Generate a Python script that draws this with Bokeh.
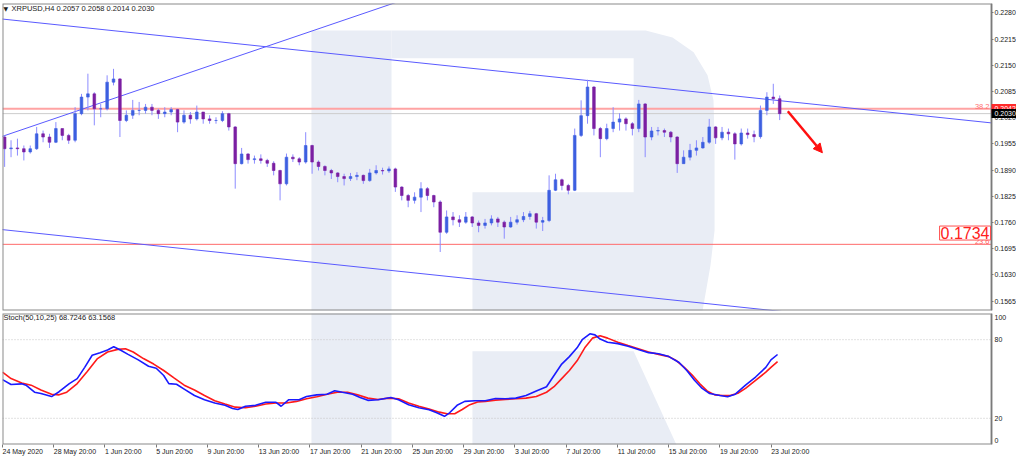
from bokeh.plotting import figure
from bokeh.models import (ColumnDataSource, Range1d, FixedTicker, PrintfTickFormatter,
                          Label, Arrow, NormalHead, LinearAxis)
from bokeh.layouts import column
from bokeh.embed import file_html
from bokeh.resources import INLINE

FONT = "Liberation Sans"

# ---------------- data ----------------
symbol = "XRPUSD,H4"
last_ohlc = ["0.2057", "0.2058", "0.2014", "0.2030"]
stoch_name = "Stoch(50,10,25)"
stoch_last = ["68.7246", "63.1568"]

bars_per_candle = 3          # each drawn candle = 3 H4 bars (12h)
first_open = 0.1972
close_ = [0.1943, 0.1945, 0.1943, 0.1935, 0.1943, 0.1980, 0.1972, 0.1959, 0.1993, 0.1976,
          0.1964, 0.2030, 0.2071, 0.2079, 0.2042, 0.2042, 0.2108, 0.2116, 0.2013, 0.2026,
          0.2038, 0.2038, 0.2046, 0.2038, 0.2030, 0.2034, 0.2040, 0.2009, 0.2026, 0.2017,
          0.2034, 0.2017, 0.2013, 0.2013, 0.2030, 0.1997, 0.1906, 0.1930, 0.1916, 0.1918,
          0.1914, 0.1907, 0.1889, 0.1856, 0.1922, 0.1918, 0.1910, 0.1951, 0.1910, 0.1899,
          0.1889, 0.1883, 0.1874, 0.1869, 0.1874, 0.1877, 0.1864, 0.1883, 0.1889, 0.1888,
          0.1893, 0.1848, 0.1827, 0.1815, 0.1823, 0.1844, 0.1827, 0.1811, 0.1736, 0.1774,
          0.1767, 0.1761, 0.1774, 0.1759, 0.1753, 0.1759, 0.1769, 0.1761, 0.1749, 0.1761,
          0.1767, 0.1775, 0.1782, 0.1761, 0.1765, 0.1840, 0.1866, 0.1852, 0.1840, 0.1976,
          0.2025, 0.2096, 0.1993, 0.1968, 0.1993, 0.2009, 0.2017, 0.2005, 0.1993, 0.2054,
          0.1972, 0.1987, 0.1988, 0.1984, 0.1972, 0.1906, 0.1922, 0.1939, 0.1945, 0.1959,
          0.1997, 0.1970, 0.1984, 0.1980, 0.1955, 0.1982, 0.1978, 0.1973, 0.2038, 0.2071,
          0.2067, 0.2030]
high_ = [0.1976, 0.1964, 0.1968, 0.1951, 0.1951, 0.1997, 0.1988, 0.1980, 0.2009, 0.1993,
         0.1980, 0.2046, 0.2079, 0.2129, 0.2083, 0.2054, 0.2125, 0.2141, 0.2118, 0.2038,
         0.2064, 0.2059, 0.2054, 0.2054, 0.2042, 0.2046, 0.2046, 0.2042, 0.2038, 0.2034,
         0.2050, 0.2034, 0.2026, 0.2021, 0.2036, 0.2032, 0.1999, 0.1945, 0.1932, 0.1926,
         0.1929, 0.1918, 0.1912, 0.1891, 0.1931, 0.1929, 0.1922, 0.1984, 0.1953, 0.1914,
         0.1902, 0.1893, 0.1885, 0.1881, 0.1883, 0.1885, 0.1879, 0.1893, 0.1902, 0.1896,
         0.1899, 0.1896, 0.1850, 0.1831, 0.1835, 0.1860, 0.1848, 0.1829, 0.1815, 0.1790,
         0.1786, 0.1778, 0.1786, 0.1776, 0.1765, 0.1769, 0.1778, 0.1774, 0.1765, 0.1774,
         0.1778, 0.1786, 0.1789, 0.1784, 0.1774, 0.1877, 0.1881, 0.1869, 0.1856, 0.1993,
         0.2063, 0.2114, 0.2098, 0.1997, 0.2005, 0.2046, 0.2031, 0.2021, 0.2009, 0.2064,
         0.2056, 0.1997, 0.1997, 0.1993, 0.1987, 0.1974, 0.1939, 0.1955, 0.1964, 0.1972,
         0.2017, 0.1999, 0.1997, 0.1993, 0.1984, 0.1993, 0.1993, 0.1988, 0.2050, 0.2083,
         0.2104, 0.2075]
low_ = [0.1898, 0.1922, 0.1926, 0.1914, 0.1931, 0.1940, 0.1959, 0.1945, 0.1957, 0.1964,
        0.1955, 0.1959, 0.2026, 0.2038, 0.2001, 0.2021, 0.2038, 0.2100, 0.1972, 0.2009,
        0.2017, 0.2026, 0.2030, 0.2026, 0.2017, 0.2021, 0.2026, 0.1984, 0.2005, 0.2005,
        0.2013, 0.2005, 0.2005, 0.2005, 0.2009, 0.1988, 0.1844, 0.1904, 0.1906, 0.1906,
        0.1906, 0.1898, 0.1877, 0.1815, 0.1852, 0.1910, 0.1902, 0.1906, 0.1881, 0.1889,
        0.1877, 0.1868, 0.1860, 0.1852, 0.1863, 0.1865, 0.1856, 0.1861, 0.1879, 0.1879,
        0.1883, 0.1836, 0.1815, 0.1798, 0.1807, 0.1786, 0.1815, 0.1798, 0.1687, 0.1732,
        0.1753, 0.1749, 0.1757, 0.1749, 0.1736, 0.1745, 0.1753, 0.1749, 0.1720, 0.1747,
        0.1755, 0.1761, 0.1767, 0.1745, 0.1739, 0.1761, 0.1838, 0.1840, 0.1830, 0.1838,
        0.1972, 0.2005, 0.1976, 0.1922, 0.1964, 0.1984, 0.1988, 0.1988, 0.1976, 0.1984,
        0.1922, 0.1964, 0.1976, 0.1972, 0.1959, 0.1883, 0.1906, 0.1914, 0.1926, 0.1943,
        0.1955, 0.1955, 0.1964, 0.1964, 0.1916, 0.1951, 0.1968, 0.1959, 0.1968, 0.2026,
        0.2054, 0.2014]

price_ticks = [0.2280, 0.2215, 0.2150, 0.2085, 0.2020, 0.1955, 0.1890, 0.1825,
               0.1760, 0.1695, 0.1630, 0.1565]
# stochastic scale labels (MT4 keeps the end labels inside the window)
stoch_label_pos = [3, 20, 80, 97]
stoch_label_txt = ["0", "20", "80", "100"]
date_tick_bars = [0, 24, 48, 72, 96, 120, 144, 168, 192, 216, 240, 264, 288, 312, 336, 360]
date_labels = ["24 May 2020", "28 May 20:00", "1 Jun 20:00", "5 Jun 20:00", "9 Jun 20:00",
               "13 Jun 20:00", "17 Jun 20:00", "21 Jun 20:00", "25 Jun 20:00", "29 Jun 20:00",
               "3 Jul 20:00", "7 Jul 20:00", "11 Jul 20:00", "15 Jul 20:00", "19 Jul 20:00",
               "23 Jul 20:00"]

# Stochastic %K (main) and %D (signal), read at bar indices
k_bars = [0, 4, 9, 11, 15, 18, 23, 26.5, 31.3, 35, 38.5, 42, 45.7, 49.2, 52.1, 55.2, 58.8,
          63.6, 68.4, 72, 75.5, 77.9, 81.5, 85.1, 89.9, 94.6, 99.4, 104.2, 107.8, 110.2,
          113.8, 118.5, 123.3, 128.1, 130.5, 134.1, 138.9, 142.4, 147.2, 152, 155.6, 159.2,
          164, 167.5, 171.1, 175.9, 181.9, 185.5, 190.2, 195, 199.8, 203.4, 207, 209.4,
          212.9, 216.5, 221.3, 226.1, 230.9, 235.6, 240.4, 245.2, 250, 254.8, 258.3, 261.9,
          265.5, 269.1, 271.5, 275.1, 277.5, 279.9, 283.4, 288.2, 293, 297.8, 302.6, 307.3,
          312.1, 316.9, 320.5, 324.1, 327.7, 331.2, 336, 339.6, 343.2, 348, 352.7, 357.5,
          359.9, 363]
k_vals = [49.5, 45.8, 46.3, 45.3, 39.9, 38.9, 36.6, 40.3, 46.5, 50.3, 58.9, 68.1, 70.1, 72.1,
          74.6, 72.1, 68.8, 64.6, 59.7, 58.2, 52.7, 46.5, 46.0, 42.3, 37.4, 34.2, 31.7, 29.9,
          27.5, 26.7, 29.2, 29.9, 32.2, 32.2, 29.2, 34.2, 34.2, 36.6, 37.9, 38.4, 41.1, 39.9,
          38.4, 35.9, 33.7, 34.2, 35.9, 34.2, 30.4, 28.0, 26.5, 24.2, 21.5, 24.2, 29.9, 32.9,
          33.4, 33.4, 35.1, 34.9, 35.4, 37.4, 40.9, 44.1, 52.7, 61.4, 67.1, 73.8, 80.0, 84.5,
          83.7, 80.5, 78.0, 77.0, 75.0, 72.6, 70.1, 69.3, 67.1, 62.6, 56.5, 49.0, 42.8, 38.9,
          37.4, 36.4, 38.4, 45.3, 51.5, 58.9, 64.6, 68.7]
d_bars = [0, 4, 9, 13.4, 18, 23, 26.5, 30.1, 35, 39.7, 44.5, 49.2, 54, 57.6, 61.2, 66, 70.8,
          75.5, 80.3, 85.1, 89.9, 94.6, 99.4, 104.2, 109, 113.8, 118.5, 123.3, 128.1, 132.9,
          137.7, 142.4, 147.2, 152, 156.8, 161.6, 166.3, 171.1, 175.9, 180.7, 185.5, 190.2,
          195, 199.8, 204.6, 208.2, 211.8, 215.3, 218.9, 222.5, 226.1, 230.9, 235.6, 240.4,
          245.2, 250, 254.8, 258.3, 261.9, 265.5, 269.1, 272.7, 276.3, 279.9, 283.4, 288.2,
          293, 297.8, 302.6, 307.3, 312.1, 315.7, 319.3, 322.9, 326.5, 330, 333.6, 337.2,
          340.8, 344.4, 348, 352.7, 357.5, 359.9, 363]
d_vals = [55.2, 50.3, 47.0, 45.3, 41.6, 38.4, 37.9, 39.9, 46.5, 55.7, 65.6, 70.6, 72.6, 73.1,
          70.6, 65.6, 61.4, 56.5, 50.8, 45.3, 41.6, 37.4, 33.4, 30.9, 28.5, 28.0, 29.2, 30.9,
          31.7, 31.7, 32.9, 34.9, 36.4, 38.4, 39.9, 39.9, 37.9, 35.4, 34.4, 35.4, 34.9, 31.7,
          29.2, 27.0, 24.7, 23.5, 23.5, 26.7, 30.4, 32.4, 32.9, 33.9, 34.4, 34.9, 35.4, 36.6,
          39.9, 44.1, 50.3, 56.5, 63.9, 73.8, 81.2, 83.0, 81.2, 78.0, 75.5, 73.1, 70.6, 68.8,
          67.1, 63.9, 58.9, 53.2, 46.5, 40.9, 37.9, 37.4, 37.4, 39.1, 42.8, 49.0, 55.2, 58.9,
          63.2]

# drawn objects (trend lines / levels / labels)
X_END = 463.2                 # bar index at the price scale
upper_channel_bars = [-1, X_END]
upper_channel_price = [0.2265, 0.2007]
lower_channel_bars = [-1, X_END]
lower_channel_price = [0.1743, 0.1485]
rising_line_bars = [-1, 200]
rising_line_price = [0.1972, 0.2334]
fib_382 = 0.2042
fib_236 = 0.1706
bid_price = 0.2030
marked_price = 0.1734
arrow_bars = [367.8, 384.0]
arrow_price = [0.2036, 0.1933]
stoch_levels = [80, 20]

# background watermark (decoration, in bar / price units)
logo_stem_x = [144.7, 182.2, 182.2, 144.7]
logo_stem_y = [0.2236, 0.2236, 0.1500, 0.1500]
logo_bowl_x = [182.2, 301.2, 313.8, 323.7, 330.2, 333.0, 333.5, 333.5, 331.6, 326.5,
               220.1, 220.1, 295.6, 295.6, 182.2]
logo_bowl_y = [0.2236, 0.2236, 0.2219, 0.2182, 0.2125, 0.2063, 0.1963, 0.1740, 0.1654, 0.1500,
               0.1500, 0.1835, 0.1835, 0.2167, 0.2167]
logo_stem2_y = [105, 105, -5, -5]
logo_leg_x = [220.1, 295.6, 317.0, 220.1]
logo_leg_y = [71.1, 71.1, -5, -5]

# ---------------- styles ----------------
LOGO = "#e9edf5"
UP = "#3d5fe0"
DOWN = "#7b1fa2"
WICK = "#8c8cff"
TRENDLINE = "#5a5aff"
AXIS = "#7a7a7a"
BORDER = "#8a8a8a"
TXT = "#1a1a1a"
W = 1016
BL = 2
AXIS_PX = 989                       # price scale position from the frame's left edge
PX_PER_BAR = AXIS_PX / X_END
X_FULL = (W - BL) / PX_PER_BAR      # frame reaches the right edge (price labels inside it)
TICK_FS = 7  # px
P1_Y = (0.1542, 0.2303)
P2_Y = (0, 100)

x_range = Range1d(0, X_FULL)

# approximate Liberation Sans advance widths (em/1000) to start each time label at its tick
_adv = {"M": 833, "a": 556, "y": 500, "J": 500, "u": 556, "n": 556, "l": 222,
        " ": 278, ":": 278, ".": 278}


def text_px(s, fs=TICK_FS):
    return sum(_adv.get(ch, 556) for ch in s) * fs / 1000.0


date_label_centers = [round(b + text_px(s) / 2.0 / PX_PER_BAR, 3)
                      for b, s in zip(date_tick_bars, date_labels)]


def price_scale(ticks, fmt=None):
    ax = LinearAxis(fixed_location=X_END, ticker=FixedTicker(ticks=ticks))
    if fmt:
        ax.formatter = PrintfTickFormatter(format=fmt)
    ax.major_label_text_font = FONT
    ax.major_label_text_font_size = "%dpx" % TICK_FS
    ax.major_label_text_color = TXT
    ax.major_label_standoff = 1
    ax.axis_line_color = AXIS
    ax.major_tick_line_color = AXIS
    ax.major_tick_out = 2
    ax.major_tick_in = 0
    ax.minor_tick_line_color = None
    return ax


def panel_border(p, yr):
    p.quad(left=0, right=X_END, bottom=yr[0], top=yr[1], fill_color=None,
           line_color=BORDER, line_width=2)


# ---------------- price panel ----------------
p1 = figure(width=W, height=311, x_range=x_range, y_range=Range1d(*P1_Y),
            output_backend="svg", toolbar_location=None, x_axis_location=None,
            y_axis_location=None, min_border_left=BL, min_border_right=0,
            min_border_top=3, min_border_bottom=1)
p1.grid.visible = False
p1.outline_line_color = None
p1.background_fill_color = "white"
p1.border_fill_color = "white"

p1.patch(logo_stem_x, logo_stem_y, fill_color=LOGO, line_color=None)
p1.patch(logo_bowl_x, logo_bowl_y, fill_color=LOGO, line_color=None)

p1.segment(x0=0, y0=fib_382, x1=X_END, y1=fib_382, line_color="#ffa3a3", line_width=2)
p1.segment(x0=0, y0=bid_price, x1=X_END, y1=bid_price, line_color="#cccccc", line_width=1)
p1.segment(x0=0, y0=fib_236, x1=X_END, y1=fib_236, line_color="#ff6a6a", line_width=1)

p1.line(upper_channel_bars, upper_channel_price, line_color=TRENDLINE, line_width=1)
p1.line(lower_channel_bars, lower_channel_price, line_color=TRENDLINE, line_width=1)
p1.line(rising_line_bars, rising_line_price, line_color=TRENDLINE, line_width=1)

n = len(close_)
xs = [bars_per_candle * k + 1 for k in range(n)]
open_ = [first_open] + close_[:-1]
src = ColumnDataSource(dict(
    x=xs, h=high_, l=low_,
    top=[max(o, c) for o, c in zip(open_, close_)],
    bottom=[min(o, c) for o, c in zip(open_, close_)],
    color=[UP if c >= o else DOWN for o, c in zip(open_, close_)],
))
p1.segment(x0="x", y0="h", x1="x", y1="l", source=src, line_color=WICK, line_width=1)
p1.vbar(x="x", width=1.25, top="top", bottom="bottom", source=src,
        fill_color="color", line_color="color", line_width=0.6)

p1.add_layout(Arrow(end=NormalHead(size=9, fill_color="#ff1010", line_color="#ff1010"),
                    x_start=arrow_bars[0], y_start=arrow_price[0],
                    x_end=arrow_bars[1], y_end=arrow_price[1],
                    line_color="#ff1010", line_width=2.5))
panel_border(p1, P1_Y)

p1.add_layout(price_scale(price_ticks, "%.4f"), "right")

# coloured price tags on the price scale: a thick tick as the tag, then its white label
for lvl, bg in [(fib_382, "#ff2a2a"), (bid_price, "#000000")]:
    tag_box = price_scale([lvl], "%.4f")
    tag_box.axis_line_color = None
    tag_box.major_tick_out = 26
    tag_box.major_tick_line_width = 9
    tag_box.major_tick_line_color = bg
    tag_box.major_label_text_color = None
    p1.add_layout(tag_box, "right")
    tag_txt = price_scale([lvl], "%.4f")
    tag_txt.axis_line_color = None
    tag_txt.major_tick_line_color = None
    tag_txt.major_label_text_color = "white"
    p1.add_layout(tag_txt, "right")

p1.add_layout(Label(x=1, y=302, x_units="screen", y_units="screen", text="\u25bc",
                    text_font="DejaVu Sans", text_font_size="6px", text_color=TXT,
                    text_baseline="middle"))
p1.add_layout(Label(x=9, y=302, x_units="screen", y_units="screen",
                    text=symbol + "  " + " ".join(last_ohlc),
                    text_font=FONT, text_font_size="7.5px", text_color=TXT,
                    text_baseline="middle"))
p1.add_layout(Label(x=AXIS_PX - 2, y=fib_382, x_units="screen", y_units="data", text="38.2",
                    text_font=FONT, text_font_size="7.5px", text_color="#ff7070",
                    text_align="right", text_baseline="bottom"))
p1.add_layout(Label(x=AXIS_PX - 2, y=fib_236, x_units="screen", y_units="data", text="23.6",
                    text_font=FONT, text_font_size="7.5px", text_color="#ff6060",
                    text_align="right", text_baseline="bottom"))
p1.add_layout(Label(x=AXIS_PX - 1, y=marked_price, x_units="screen", y_units="data",
                    text="%.4f" % marked_price, text_font=FONT, text_font_size="16px",
                    text_color="#ff2020", text_align="right", text_baseline="middle",
                    background_fill_color="white", border_line_color="#ff5050",
                    border_line_width=1, padding=1))

# ---------------- stochastic panel ----------------
p2 = figure(width=W, height=146, x_range=x_range, y_range=Range1d(*P2_Y),
            output_backend="svg", toolbar_location=None, y_axis_location=None,
            min_border_left=BL, min_border_right=0, min_border_top=2, min_border_bottom=12)
p2.grid.visible = False
p2.outline_line_color = None
p2.background_fill_color = "white"
p2.border_fill_color = "white"

p2.patch(logo_stem_x, logo_stem2_y, fill_color=LOGO, line_color=None)
p2.patch(logo_leg_x, logo_leg_y, fill_color=LOGO, line_color=None)
for lv in stoch_levels:
    p2.segment(x0=0, y0=lv, x1=X_END, y1=lv, line_color="#c4c4c4", line_width=1,
               line_dash="1 2")

p2.line(d_bars, d_vals, line_color="#ff1a1a", line_width=1.6)
p2.line(k_bars, k_vals, line_color="#1a1aff", line_width=1.6)
panel_border(p2, P2_Y)

stoch_scale = price_scale(stoch_label_pos)
stoch_scale.major_label_overrides = dict(zip(stoch_label_pos, stoch_label_txt))
stoch_scale.major_tick_line_color = None
p2.add_layout(stoch_scale, "right")

# time scale: tick marks (as minor ticks) at each date, labels starting at the tick
p2.xaxis.ticker = FixedTicker(ticks=date_label_centers, minor_ticks=date_tick_bars)
p2.xaxis.major_label_overrides = dict(zip(date_label_centers, date_labels))
p2.xaxis.major_label_text_font = FONT
p2.xaxis.major_label_text_font_size = "%dpx" % TICK_FS
p2.xaxis.major_label_text_color = TXT
p2.xaxis.major_label_standoff = 0
p2.xaxis.axis_line_color = None
p2.xaxis.major_tick_line_color = None
p2.xaxis.major_tick_out = 3
p2.xaxis.major_tick_in = 0
p2.xaxis.minor_tick_line_color = AXIS
p2.xaxis.minor_tick_out = 3
p2.xaxis.minor_tick_in = 0

p2.add_layout(Label(x=1, y=127, x_units="screen", y_units="screen",
                    text=stoch_name + " " + " ".join(stoch_last),
                    text_font=FONT, text_font_size="7.5px", text_color=TXT,
                    text_baseline="middle"))

layout = column(p1, p2, spacing=0)
open("out.html", "w").write(file_html(layout, INLINE))
